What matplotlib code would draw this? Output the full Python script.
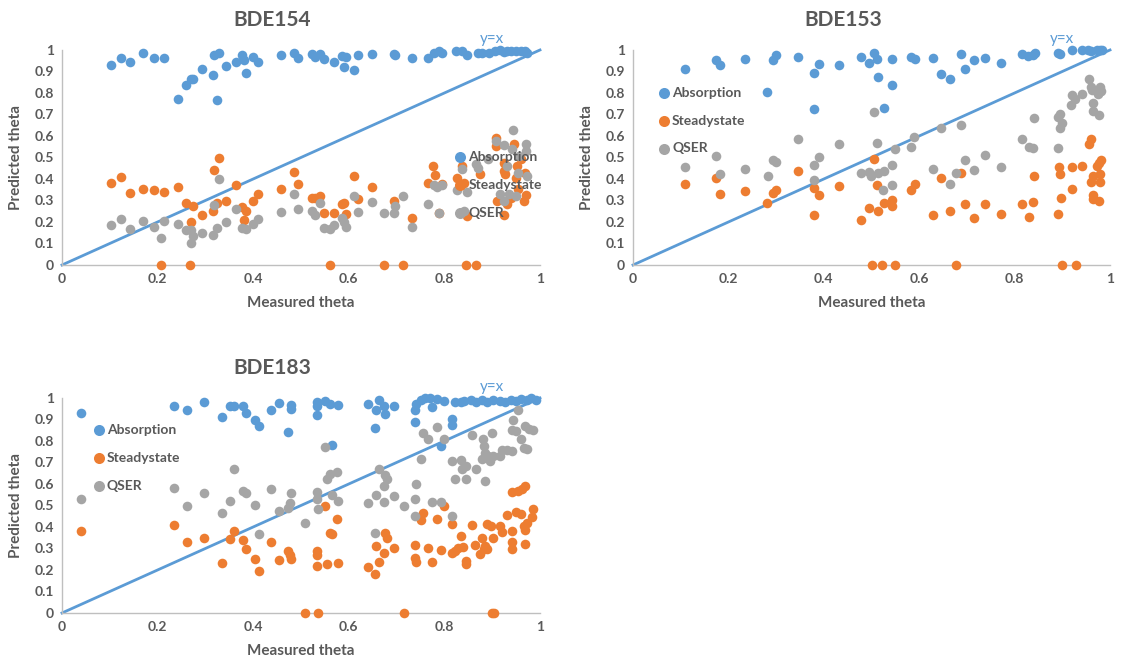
import matplotlib
matplotlib.use("Agg")
import matplotlib.pyplot as plt
import numpy as np

plt.rcParams['font.family'] = ['Lato', 'DejaVu Sans']

BLUE = '#5B9BD5'
ORANGE = '#ED7D31'
GREY = '#A5A5A5'
TXT = '#595959'

# ---- BDE154 ----
abs154_x = [0.103, 0.124, 0.142, 0.169, 0.192, 0.214, 0.242, 0.259, 0.270, 0.275, 0.292, 0.315, 0.317, 0.329,
            0.325, 0.343, 0.365, 0.377, 0.380, 0.386, 0.400, 0.410, 0.458, 0.485, 0.493, 0.523, 0.530, 0.540,
            0.549, 0.569, 0.585, 0.589, 0.594, 0.611, 0.619, 0.648, 0.694, 0.696, 0.733, 0.766, 0.778, 0.789,
            0.796, 0.824, 0.837, 0.847, 0.870, 0.878, 0.893, 0.905, 0.916, 0.924, 0.931, 0.939, 0.950, 0.961,
            0.969, 0.972]
abs154_y = [0.929, 0.961, 0.944, 0.984, 0.963, 0.963, 0.771, 0.837, 0.867, 0.867, 0.911, 0.884, 0.976, 0.988,
            0.767, 0.927, 0.944, 0.977, 0.953, 0.893, 0.969, 0.946, 0.975, 0.984, 0.964, 0.980, 0.967, 0.980,
            0.957, 0.944, 0.972, 0.922, 0.967, 0.907, 0.978, 0.983, 0.980, 0.975, 0.961, 0.963, 0.984, 0.995,
            0.984, 0.995, 0.995, 0.978, 0.988, 0.984, 0.988, 0.995, 0.998, 0.992, 0.995, 0.995, 0.995, 0.995,
            0.995, 0.988]
ss154_x = [0.103, 0.124, 0.142, 0.169, 0.192, 0.214, 0.242, 0.259, 0.275, 0.270, 0.292, 0.315, 0.317, 0.329,
           0.325, 0.343, 0.365, 0.377, 0.380, 0.386, 0.400, 0.410, 0.458, 0.485, 0.493, 0.523, 0.530, 0.540,
           0.549, 0.569, 0.585, 0.589, 0.594, 0.611, 0.619, 0.648, 0.694, 0.733, 0.766, 0.776, 0.781, 0.789,
           0.796, 0.826, 0.836, 0.841, 0.847, 0.875, 0.907, 0.908, 0.924, 0.924, 0.927, 0.924, 0.910, 0.930,
           0.946, 0.950, 0.952, 0.954, 0.961, 0.969, 0.971, 0.967, 0.940,
           0.208, 0.268, 0.560, 0.673, 0.714, 0.846, 0.867]
ss154_y = [0.380, 0.409, 0.335, 0.352, 0.349, 0.341, 0.364, 0.290, 0.274, 0.198, 0.233, 0.251, 0.442, 0.499,
           0.290, 0.298, 0.372, 0.268, 0.209, 0.253, 0.296, 0.332, 0.352, 0.431, 0.375, 0.313, 0.313, 0.321,
           0.240, 0.240, 0.284, 0.290, 0.236, 0.414, 0.305, 0.363, 0.296, 0.220, 0.381, 0.460, 0.417, 0.243,
           0.375, 0.406, 0.460, 0.383, 0.228, 0.425, 0.592, 0.553, 0.476, 0.437, 0.422, 0.231, 0.298, 0.282,
           0.564, 0.403, 0.460, 0.352, 0.491, 0.429, 0.324, 0.298, 0.312,
           0, 0, 0, 0, 0, 0, 0]
qs154_x = [0.103, 0.124, 0.142, 0.169, 0.192, 0.208, 0.214, 0.242, 0.259, 0.270, 0.275, 0.270, 0.292, 0.315,
           0.317, 0.329, 0.325, 0.343, 0.365, 0.377, 0.386, 0.400, 0.410, 0.458, 0.485, 0.493, 0.523, 0.530,
           0.540, 0.549, 0.560, 0.569, 0.585, 0.589, 0.594, 0.611, 0.619, 0.648, 0.673, 0.694, 0.696, 0.714,
           0.733, 0.766, 0.778, 0.785, 0.796, 0.789, 0.826, 0.836, 0.847, 0.841, 0.866, 0.871, 0.891, 0.907,
           0.916, 0.924, 0.924, 0.931, 0.935, 0.944, 0.950, 0.954, 0.957, 0.970, 0.970, 0.972, 0.941]
qs154_y = [0.185, 0.216, 0.166, 0.203, 0.177, 0.124, 0.205, 0.192, 0.161, 0.161, 0.135, 0.101, 0.150, 0.141,
           0.278, 0.402, 0.172, 0.200, 0.259, 0.172, 0.166, 0.189, 0.212, 0.248, 0.332, 0.262, 0.253, 0.231,
           0.290, 0.174, 0.166, 0.185, 0.220, 0.200, 0.177, 0.321, 0.248, 0.291, 0.242, 0.242, 0.274, 0.321,
           0.177, 0.285, 0.370, 0.364, 0.370, 0.243, 0.349, 0.445, 0.340, 0.253, 0.468, 0.453, 0.491, 0.577,
           0.330, 0.558, 0.298, 0.460, 0.332, 0.630, 0.321, 0.429, 0.507, 0.561, 0.530, 0.414, 0.538]

# ---- BDE153 ----
abs153_x = [0.109, 0.173, 0.182, 0.235, 0.280, 0.293, 0.299, 0.345, 0.379, 0.379, 0.390, 0.432, 0.478, 0.495,
            0.505, 0.511, 0.514, 0.527, 0.543, 0.543, 0.582, 0.591, 0.628, 0.646, 0.664, 0.687, 0.695, 0.715,
            0.737, 0.771, 0.815, 0.828, 0.839, 0.843, 0.891, 0.896, 0.920, 0.942, 0.953, 0.961, 0.972, 0.980,
            0.983]
abs153_y = [0.910, 0.953, 0.929, 0.957, 0.806, 0.952, 0.978, 0.966, 0.895, 0.727, 0.936, 0.932, 0.967, 0.941,
            0.984, 0.960, 0.874, 0.732, 0.839, 0.960, 0.967, 0.957, 0.963, 0.888, 0.864, 0.983, 0.910, 0.955,
            0.963, 0.938, 0.983, 0.972, 0.977, 0.988, 0.988, 0.983, 1.000, 0.998, 0.998, 0.995, 0.998, 1.000,
            0.998]
ss153_x = [0.109, 0.173, 0.182, 0.235, 0.280, 0.293, 0.299, 0.345, 0.379, 0.379, 0.390, 0.432, 0.478, 0.495,
           0.505, 0.511, 0.514, 0.527, 0.543, 0.543, 0.582, 0.591, 0.628, 0.646, 0.664, 0.687, 0.696, 0.715,
           0.737, 0.771, 0.816, 0.830, 0.839, 0.841, 0.891, 0.893, 0.897, 0.895, 0.920, 0.920, 0.942, 0.955,
           0.961, 0.961, 0.965, 0.965, 0.965, 0.972, 0.976, 0.980, 0.982, 0.980, 0.976,
           0.501, 0.523, 0.550, 0.677, 0.899, 0.929]
ss153_y = [0.378, 0.406, 0.332, 0.346, 0.287, 0.336, 0.349, 0.437, 0.357, 0.231, 0.327, 0.366, 0.209, 0.265,
           0.495, 0.371, 0.253, 0.288, 0.301, 0.273, 0.347, 0.378, 0.231, 0.406, 0.253, 0.429, 0.282, 0.220,
           0.282, 0.237, 0.282, 0.223, 0.295, 0.414, 0.239, 0.456, 0.313, 0.422, 0.457, 0.352, 0.460, 0.561,
           0.588, 0.385, 0.414, 0.324, 0.305, 0.460, 0.476, 0.385, 0.488, 0.422, 0.298,
           0, 0, 0, 0, 0, 0]
qs153_x = [0.109, 0.173, 0.182, 0.235, 0.282, 0.293, 0.299, 0.345, 0.379, 0.379, 0.390, 0.432, 0.478, 0.495,
           0.499, 0.505, 0.511, 0.514, 0.527, 0.524, 0.543, 0.543, 0.550, 0.583, 0.589, 0.628, 0.646, 0.664,
           0.677, 0.687, 0.696, 0.715, 0.737, 0.771, 0.816, 0.830, 0.839, 0.841, 0.891, 0.891, 0.895, 0.895,
           0.899, 0.918, 0.920, 0.927, 0.942, 0.955, 0.961, 0.963, 0.965, 0.965, 0.974, 0.976, 0.980, 0.982,
           0.976]
qs153_y = [0.456, 0.507, 0.422, 0.445, 0.414, 0.487, 0.479, 0.584, 0.465, 0.394, 0.504, 0.563, 0.429, 0.434,
           0.414, 0.713, 0.569, 0.426, 0.437, 0.347, 0.464, 0.371, 0.538, 0.550, 0.597, 0.445, 0.636, 0.375,
           0.426, 0.650, 0.488, 0.442, 0.513, 0.456, 0.584, 0.549, 0.544, 0.682, 0.546, 0.690, 0.701, 0.639,
           0.659, 0.746, 0.791, 0.771, 0.797, 0.864, 0.829, 0.814, 0.755, 0.716, 0.795, 0.696, 0.829, 0.809,
           0.805]

# ---- BDE183 ----
abs183_x = [0.039, 0.234, 0.261, 0.298, 0.334, 0.351, 0.360, 0.379, 0.384, 0.404, 0.412, 0.437, 0.455, 0.472,
            0.480, 0.480, 0.533, 0.533, 0.534, 0.551, 0.560, 0.565, 0.577, 0.640, 0.654, 0.656, 0.664, 0.673,
            0.676, 0.694, 0.738, 0.738, 0.740, 0.751, 0.759, 0.769, 0.774, 0.785, 0.793, 0.799, 0.815, 0.815,
            0.822, 0.834, 0.841, 0.856, 0.867, 0.878, 0.890, 0.901, 0.916, 0.927, 0.939, 0.950, 0.961, 0.972,
            0.982, 0.991]
abs183_y = [0.930, 0.961, 0.943, 0.981, 0.912, 0.964, 0.961, 0.964, 0.930, 0.896, 0.872, 0.946, 0.977, 0.842,
            0.969, 0.949, 0.980, 0.961, 0.923, 0.988, 0.974, 0.782, 0.968, 0.971, 0.861, 0.946, 0.992, 0.961,
            0.927, 0.964, 0.889, 0.946, 0.974, 0.992, 1.000, 1.000, 0.957, 0.997, 0.776, 0.985, 0.904, 0.873,
            0.980, 0.980, 0.988, 0.992, 0.980, 0.992, 0.980, 0.992, 0.985, 0.980, 0.992, 0.988, 0.995, 0.992,
            1.000, 0.992]
ss183_x = [0.039, 0.234, 0.261, 0.298, 0.334, 0.351, 0.360, 0.379, 0.384, 0.404, 0.412, 0.437, 0.455, 0.472,
           0.476, 0.480, 0.533, 0.534, 0.533, 0.551, 0.554, 0.560, 0.565, 0.575, 0.577, 0.640, 0.654, 0.656,
           0.664, 0.673, 0.676, 0.680, 0.694, 0.738, 0.738, 0.740, 0.751, 0.755, 0.766, 0.774, 0.785, 0.793,
           0.799, 0.815, 0.816, 0.822, 0.828, 0.834, 0.838, 0.845, 0.846, 0.858, 0.864, 0.875, 0.879, 0.882,
           0.886, 0.890, 0.890, 0.897, 0.901, 0.916, 0.920, 0.930, 0.941, 0.941, 0.941, 0.941, 0.950, 0.954,
           0.961, 0.963, 0.969, 0.966, 0.969, 0.969, 0.972, 0.983, 0.985,
           0.509, 0.536, 0.716, 0.899, 0.903]
ss183_y = [0.382, 0.408, 0.332, 0.351, 0.232, 0.343, 0.379, 0.340, 0.297, 0.253, 0.195, 0.331, 0.247, 0.289,
           0.269, 0.253, 0.272, 0.286, 0.219, 0.498, 0.226, 0.374, 0.369, 0.439, 0.232, 0.212, 0.181, 0.312,
           0.238, 0.281, 0.371, 0.351, 0.301, 0.315, 0.258, 0.238, 0.431, 0.464, 0.304, 0.238, 0.439, 0.294,
           0.498, 0.281, 0.413, 0.289, 0.304, 0.359, 0.309, 0.243, 0.230, 0.408, 0.315, 0.274, 0.351, 0.297,
           0.312, 0.413, 0.297, 0.405, 0.351, 0.405, 0.377, 0.457, 0.563, 0.382, 0.331, 0.297, 0.470, 0.567,
           0.459, 0.575, 0.590, 0.405, 0.385, 0.323, 0.420, 0.448, 0.485,
           0, 0, 0, 0, 0]
qs183_x = [0.039, 0.234, 0.261, 0.298, 0.334, 0.351, 0.360, 0.379, 0.384, 0.404, 0.412, 0.437, 0.455, 0.472,
           0.476, 0.480, 0.509, 0.533, 0.534, 0.536, 0.551, 0.554, 0.560, 0.565, 0.575, 0.577, 0.640, 0.654,
           0.656, 0.664, 0.673, 0.676, 0.680, 0.674, 0.694, 0.716, 0.738, 0.738, 0.740, 0.751, 0.755, 0.766,
           0.774, 0.785, 0.793, 0.799, 0.815, 0.816, 0.822, 0.834, 0.836, 0.845, 0.846, 0.858, 0.867, 0.878,
           0.880, 0.882, 0.884, 0.886, 0.891, 0.896, 0.899, 0.901, 0.916, 0.920, 0.930, 0.941, 0.944, 0.950,
           0.954, 0.961, 0.966, 0.969, 0.972, 0.976, 0.985, 0.941]
qs183_y = [0.532, 0.581, 0.498, 0.556, 0.467, 0.521, 0.668, 0.567, 0.560, 0.501, 0.369, 0.578, 0.475, 0.490,
           0.510, 0.560, 0.420, 0.563, 0.529, 0.482, 0.773, 0.621, 0.645, 0.547, 0.655, 0.521, 0.510, 0.371,
           0.547, 0.668, 0.590, 0.640, 0.621, 0.516, 0.544, 0.498, 0.532, 0.451, 0.601, 0.717, 0.838, 0.807,
           0.516, 0.866, 0.516, 0.807, 0.706, 0.451, 0.621, 0.711, 0.668, 0.621, 0.683, 0.830, 0.671, 0.717,
           0.810, 0.776, 0.745, 0.614, 0.729, 0.706, 0.835, 0.729, 0.729, 0.760, 0.757, 0.852, 0.896, 0.845,
           0.946, 0.807, 0.767, 0.869, 0.762, 0.856, 0.849, 0.753]

panels = [
    ("BDE154", abs154_x, abs154_y, ss154_x, ss154_y, qs154_x, qs154_y),
    ("BDE153", abs153_x, abs153_y, ss153_x, ss153_y, qs153_x, qs153_y),
    ("BDE183", abs183_x, abs183_y, ss183_x, ss183_y, qs183_x, qs183_y),
]
# axes rectangles (figure fraction) and legend anchors (axes fraction)
rects = [[0.0553, 0.6045, 0.4264, 0.3209],
         [0.5647, 0.6045, 0.4255, 0.3209],
         [0.0553, 0.0851, 0.4264, 0.3209]]
leg_anchor = [(0.815, 0.53), (0.047, 0.83), (0.059, 0.88)]

fig = plt.figure(figsize=(11.21, 6.70), dpi=100)
for (title, ax_, ay_, sx_, sy_, qx_, qy_), r, la in zip(panels, rects, leg_anchor):
    ax = fig.add_axes(r)
    ms = 48
    h1 = ax.scatter(ax_, ay_, s=ms, color=BLUE, label='Absorption', clip_on=False, zorder=3, linewidths=0)
    h2 = ax.scatter(sx_, sy_, s=ms, color=ORANGE, label='Steadystate', clip_on=False, zorder=3, linewidths=0)
    h3 = ax.scatter(qx_, qy_, s=ms, color=GREY, label='QSER', clip_on=False, zorder=3, linewidths=0)
    ax.plot([0, 1], [0, 1], color=BLUE, lw=2, zorder=2, clip_on=False)
    ax.text(0.9, 1.02, 'y=x', color=BLUE, fontsize=11, ha='center', va='bottom')

    ax.set_xlim(0, 1)
    ax.set_ylim(0, 1)
    ax.set_xticks(np.arange(0, 1.01, 0.2))
    ax.set_xticklabels(['0', '0.2', '0.4', '0.6', '0.8', '1'])
    ax.set_yticks(np.arange(0, 1.01, 0.1))
    ax.set_yticklabels(['0', '0.1', '0.2', '0.3', '0.4', '0.5', '0.6', '0.7', '0.8', '0.9', '1'])
    ax.tick_params(length=0, labelsize=10, labelcolor=TXT, pad=6)
    for lab in ax.get_xticklabels() + ax.get_yticklabels():
        lab.set_fontweight('bold')
    for s in ['top', 'right']:
        ax.spines[s].set_visible(False)
    for s in ['left', 'bottom']:
        ax.spines[s].set_color('#BFBFBF')
        ax.spines[s].set_linewidth(1)

    ax.set_title(title, fontsize=15, fontweight='bold', color=TXT, x=0.44, pad=17)
    ax.set_xlabel('Measured theta', fontsize=11, fontweight='bold', color=TXT, labelpad=8)
    ax.set_ylabel('Predicted theta', fontsize=11, fontweight='bold', color=TXT, labelpad=8)

    leg = ax.legend(handles=[h1, h2, h3], loc='upper left', bbox_to_anchor=la, frameon=False,
                    handletextpad=0.0, labelspacing=1.15, borderpad=0, borderaxespad=0,
                    handlelength=1.2, markerscale=1.15, prop={'size': 10, 'weight': 'bold'})
    for t in leg.get_texts():
        t.set_color(TXT)

fig.savefig('out.png', dpi=100)
